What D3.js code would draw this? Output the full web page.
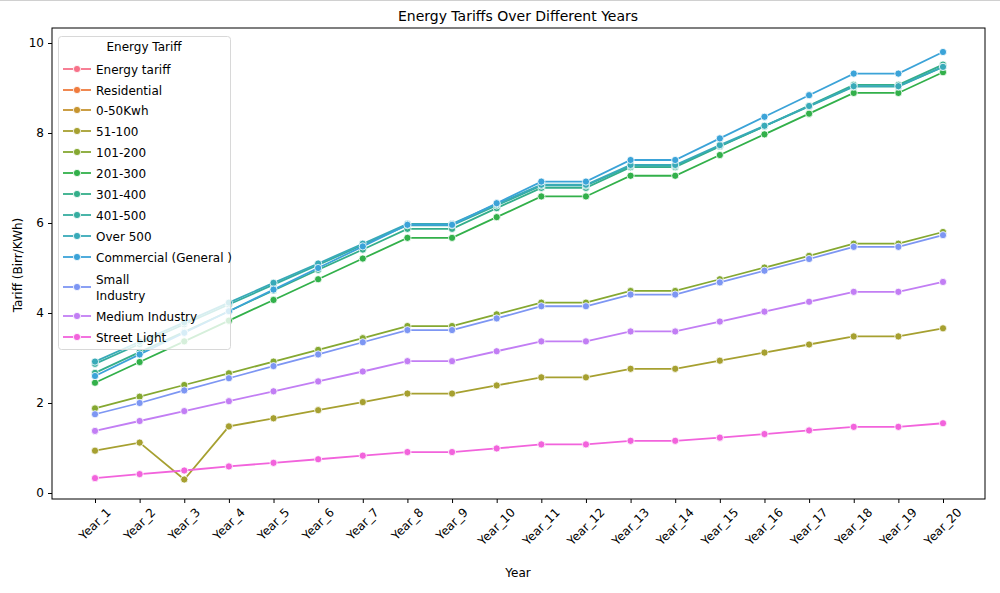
<!DOCTYPE html>
<html>
<head>
<meta charset="utf-8">
<script src="https://cdn.jsdelivr.net/npm/d3@7"></script>
<style>
body{margin:0;background:#fff;}
text{font-family:"DejaVu Sans",sans-serif;}
</style>
</head>
<body>
<svg id="chart" width="1000" height="593"></svg>
<script>
const years = ["Year_1","Year_2","Year_3","Year_4","Year_5","Year_6","Year_7","Year_8","Year_9","Year_10","Year_11","Year_12","Year_13","Year_14","Year_15","Year_16","Year_17","Year_18","Year_19","Year_20"];
const seriesNames = ["Energy tariff","Residential","0-50Kwh","51-100","101-200","201-300","301-400","401-500","Over 500","Commercial (General )","Small\nIndustry","Medium Industry","Street Light"];
const seriesColors = ["#f77189","#ef7b3d","#c6942f","#a6a030","#85a831","#32b04a","#34ae8a","#36ada0","#38aab8","#3ba3d8","#7d96f3","#c27ef4","#f263dc"];
const yTicks = [0,2,4,6,8,10];

const energyTariff = [];
const residential = [];
const kwh0_50 = [];
const kwh51_100 = [0.94,1.12,0.30,1.48,1.66,1.84,2.02,2.21,2.21,2.39,2.57,2.57,2.76,2.76,2.94,3.12,3.30,3.48,3.48,3.66];
const kwh101_200 = [1.88,2.14,2.40,2.66,2.92,3.18,3.44,3.71,3.71,3.97,4.23,4.23,4.49,4.49,4.75,5.01,5.27,5.54,5.54,5.80];
const kwh201_300 = [2.45,2.91,3.37,3.83,4.29,4.75,5.21,5.67,5.67,6.13,6.59,6.59,7.05,7.05,7.51,7.97,8.43,8.89,8.89,9.35];
const kwh301_400 = [2.67,3.13,3.58,4.04,4.50,4.96,5.41,5.87,5.87,6.33,6.78,6.78,7.24,7.24,7.70,8.15,8.61,9.07,9.07,9.52];
const kwh401_500 = [2.87,3.31,3.75,4.19,4.63,5.07,5.51,5.95,5.95,6.39,6.83,6.83,7.27,7.27,7.71,8.15,8.59,9.03,9.03,9.47];
const over500 = [2.92,3.36,3.79,4.23,4.67,5.10,5.54,5.98,5.98,6.42,6.85,6.85,7.29,7.29,7.73,8.16,8.60,9.04,9.04,9.47];
const commercial = [2.60,3.08,3.56,4.04,4.52,5.00,5.48,5.96,5.96,6.44,6.92,6.92,7.40,7.40,7.88,8.36,8.84,9.32,9.32,9.80];
const smallIndustry = [1.75,2.00,2.28,2.55,2.82,3.08,3.35,3.62,3.62,3.88,4.15,4.15,4.41,4.41,4.68,4.94,5.20,5.47,5.47,5.73];
const mediumIndustry = [1.38,1.60,1.82,2.04,2.26,2.48,2.70,2.93,2.93,3.15,3.37,3.37,3.59,3.59,3.81,4.03,4.25,4.47,4.47,4.69];
const streetLight = [0.33,0.42,0.50,0.59,0.67,0.75,0.83,0.91,0.91,0.99,1.08,1.08,1.16,1.16,1.23,1.31,1.39,1.47,1.47,1.55];

const seriesValues = [energyTariff,residential,kwh0_50,kwh51_100,kwh101_200,kwh201_300,kwh301_400,kwh401_500,over500,commercial,smallIndustry,mediumIndustry,streetLight];

const svg = d3.select("#chart");
const L = 52, R = 985, T = 28, B = 499;

svg.append("line").attr("x1",0).attr("x2",1000).attr("y1",0.5).attr("y2",0.5).attr("stroke","#d0d0d0");

const x = d3.scalePoint().domain(years).range([95, 943]);
const y = d3.scaleLinear().domain([0,10]).range([493, 43]);

// lines
const line = d3.line().x(d=>x(d.year)).y(d=>y(d.v));
const plot = svg.append("g");
seriesValues.forEach((vals,i)=>{
  const pts = vals.map((v,j)=>({year:years[j], v}));
  if(!pts.length) return;
  const g = plot.append("g");
  g.append("path").attr("d", line(pts)).attr("fill","none").attr("stroke",seriesColors[i]).attr("stroke-width",1.8);
  g.selectAll("circle").data(pts).join("circle")
    .attr("cx",d=>x(d.year)).attr("cy",d=>y(d.v)).attr("r",3.6)
    .attr("fill",seriesColors[i]).attr("stroke","#fff").attr("stroke-width",0.8);
});

// axes
const yAxis = svg.append("g").attr("transform",`translate(${L},0)`)
  .call(d3.axisLeft(y).tickValues(yTicks).tickSize(4).tickPadding(4).tickFormat(d3.format("d")));
yAxis.select(".domain").remove();
yAxis.selectAll("text").attr("font-size",12).attr("fill","#000").style("font-family","DejaVu Sans");
yAxis.selectAll("line").attr("stroke","#000");

const xAxis = svg.append("g").attr("transform",`translate(0,${B})`)
  .call(d3.axisBottom(x).tickSize(4).tickFormat(""));
xAxis.select(".domain").remove();
xAxis.selectAll("line").attr("stroke","#000");

const xl = svg.append("g");
years.forEach(yr=>{
  const t = xl.append("text").text(yr).attr("font-size",12).attr("text-anchor","middle").attr("dominant-baseline","central");
  const len = t.node().getComputedTextLength();
  const h = (len + 12) * Math.SQRT1_2;
  t.attr("transform",`translate(${x(yr)},${506 + h/2}) rotate(-45)`);
});

svg.append("rect").attr("x",L).attr("y",T).attr("width",R-L).attr("height",B-T)
  .attr("fill","none").attr("stroke","#000").attr("stroke-width",1);

// labels
svg.append("text").text("Energy Tariffs Over Different Years").attr("x",518).attr("y",21)
  .attr("text-anchor","middle").attr("font-size",14);
svg.append("text").text("Year").attr("x",518).attr("y",577).attr("text-anchor","middle").attr("font-size",12);
svg.append("text").text("Tariff (Birr/KWh)").attr("transform","translate(22,265) rotate(-90)")
  .attr("text-anchor","middle").attr("font-size",12);

// legend
const lg = svg.append("g");
lg.append("rect").attr("x",58.5).attr("y",36.5).attr("width",172).attr("height",313).attr("rx",3)
  .attr("fill","#fff").attr("fill-opacity",0.8).attr("stroke","#d8d8d8");
lg.append("text").text("Energy Tariff").attr("x",144).attr("y",51).attr("text-anchor","middle").attr("font-size",12);
const rowY = [69,90,110,131,152,173,194,215,236,257,287,316,337];
seriesNames.forEach((n,i)=>{
  const yy = rowY[i];
  lg.append("line").attr("x1",63).attr("x2",91).attr("y1",yy).attr("y2",yy).attr("stroke",seriesColors[i]).attr("stroke-width",1.8);
  lg.append("circle").attr("cx",77).attr("cy",yy).attr("r",3.6).attr("fill",seriesColors[i]).attr("stroke","#fff").attr("stroke-width",0.8);
  const parts = n.split("\n");
  const t = lg.append("text").attr("x",96).attr("font-size",12);
  parts.forEach((p,k)=>{
    t.append("tspan").attr("x",96).attr("y", yy + 4.5 + (k - (parts.length-1)/2)*16).text(p);
  });
});
</script>
</body>
</html>
